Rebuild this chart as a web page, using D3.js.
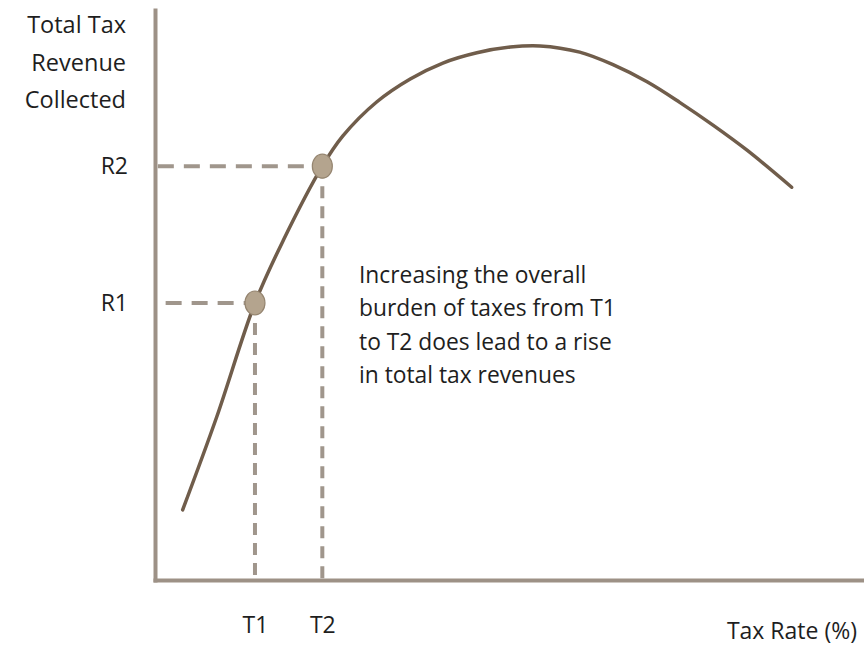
<!DOCTYPE html>
<html>
<head>
<meta charset="utf-8">
<script src="https://cdn.jsdelivr.net/npm/d3@7"></script>
<style>
  body { margin: 0; background: #fff; }
  text { font-family: "Open Sans", sans-serif; fill: #1e1e1e; }
</style>
</head>
<body>
<div id="chart"></div>
<script>
// curve data (tax rate %, revenue index)
const taxRate = [3.9, 8.7, 14.1, 18.1, 23.6, 26.5, 31.3, 36.0, 40.6, 45.4, 50.1, 54.3, 59.9, 64.6, 69.4, 74.0, 78.7, 83.5, 89.8];
const revenue = [12.3, 28.6, 48.6, 59.6, 72.6, 77.9, 83.9, 87.9, 90.7, 92.5, 93.5, 93.7, 92.6, 90.4, 87.4, 83.8, 79.8, 75.4, 68.9];

// marked points
const rateMarks = [14.1, 23.6];
const revMarks = [48.6, 72.6];
const rateLabels = ["T1", "T2"];
const revLabels = ["R1", "R2"];
const dashStart = [1.5, 0.4];

const yTitle = ["Total Tax", "Revenue", "Collected"];
const xTitle = "Tax Rate (%)";
const note = [
    "Increasing the overall",
    "burden of taxes from T1",
    "to T2 does lead to a rise",
    "in total tax revenues",
];

const width = 864;
const height = 648;

const curveColor = "#705d4b";
const axisColor = "#9d9186";
const dashColor = "#a0968c";

const svg = d3
    .select("div#chart")
    .append("svg")
    .attr("width", width)
    .attr("height", height);

const x = d3.scaleLinear().domain([0, 100]).range([155, 864]);
const y = d3.scaleLinear().domain([0, 100]).range([580, 10]);

// dashed guides
const guides = svg.append("g").attr("class", "guides");
rateMarks.forEach((t, i) => {
    guides
        .append("line")
        .attr("x1", x(dashStart[i]))
        .attr("x2", x(t))
        .attr("y1", y(revMarks[i]))
        .attr("y2", y(revMarks[i]))
        .attr("stroke", dashColor)
        .attr("stroke-width", 4)
        .attr("stroke-dasharray", "16 10");
    guides
        .append("line")
        .attr("x1", x(t))
        .attr("x2", x(t))
        .attr("y1", y(revMarks[i]))
        .attr("y2", y(0))
        .attr("stroke", dashColor)
        .attr("stroke-width", 4)
        .attr("stroke-dasharray", "12 8");
});

// axes
const xAxis = d3
    .axisBottom(x)
    .tickValues(rateMarks)
    .tickFormat((d, i) => rateLabels[i])
    .tickSize(0)
    .tickSizeOuter(0)
    .tickPadding(37);

const yAxis = d3
    .axisLeft(y)
    .tickValues(revMarks)
    .tickFormat((d, i) => revLabels[i])
    .tickSize(0)
    .tickSizeOuter(0)
    .tickPadding(27);

const xAxisGroup = svg
    .append("g")
    .attr("class", "xAxisGroup")
    .attr("transform", `translate(0,${y(0)})`)
    .call(xAxis);

const yAxisGroup = svg
    .append("g")
    .attr("class", "yAxisGroup")
    .attr("transform", `translate(${x(0)},0)`)
    .call(yAxis);

[xAxisGroup, yAxisGroup].forEach((g) => {
    g.select(".domain")
        .attr("stroke", axisColor)
        .attr("stroke-width", 4)
        .attr("stroke-linecap", "square");
    g.selectAll("text").style("font-size", "23px").attr("fill", "#1e1e1e");
});

// curve
const line = d3
    .line()
    .x((d, i) => x(taxRate[i]))
    .y((d, i) => y(revenue[i]))
    .curve(d3.curveCatmullRom.alpha(0.5));

svg.append("path")
    .datum(taxRate)
    .attr("d", line)
    .attr("fill", "none")
    .attr("stroke", curveColor)
    .attr("stroke-width", 3.5)
    .attr("stroke-linecap", "round");

// points
svg.selectAll("ellipse.mark")
    .data(rateMarks)
    .enter()
    .append("ellipse")
    .attr("class", "mark")
    .attr("cx", (d) => x(d))
    .attr("cy", (d, i) => y(revMarks[i]))
    .attr("rx", 10)
    .attr("ry", 12)
    .attr("fill", "#b4a48e")
    .attr("stroke", "#958570")
    .attr("stroke-width", 1.2);

// titles
svg.append("text")
    .attr("text-anchor", "end")
    .style("font-size", "23.5px")
    .selectAll("tspan")
    .data(yTitle)
    .enter()
    .append("tspan")
    .attr("x", 126)
    .attr("y", (d, i) => 33 + i * 37.5)
    .text((d) => d);

svg.append("text")
    .attr("text-anchor", "end")
    .attr("x", 857)
    .attr("y", 639)
    .style("font-size", "23px")
    .text(xTitle);

svg.append("text")
    .style("font-size", "22.8px")
    .selectAll("tspan")
    .data(note)
    .enter()
    .append("tspan")
    .attr("x", 359)
    .attr("y", (d, i) => 283 + i * 33.3)
    .text((d) => d);
</script>
</body>
</html>
